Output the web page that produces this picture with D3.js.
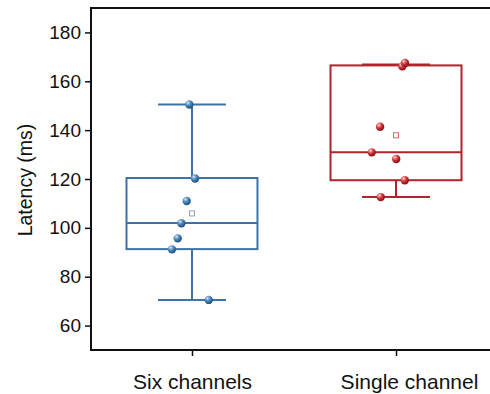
<!DOCTYPE html>
<html>
<head>
<meta charset="utf-8">
<script src="https://cdn.jsdelivr.net/npm/d3@7"></script>
<style>
  body { margin: 0; background: #fff; }
  svg { display: block; }
  text { font-family: "Liberation Sans", Arial, sans-serif; fill: #111; }
</style>
</head>
<body>
<svg id="chart" width="490" height="394"></svg>
<script>
// categories and summary stats
const categories = ["Six channels", "Single channel"];
const whiskerLow = [70.5, 112.6];
const q1 = [91.3, 119.5];
const median = [102.0, 130.9];
const q3 = [120.4, 166.5];
const whiskerHigh = [150.5, 166.9];
const means = [105.9, 137.9];

// raw points (value) and their horizontal jitter (fraction of band step)
const sixValues = [150.5, 120.2, 111.0, 101.9, 95.7, 91.2, 70.5];
const sixJitter = [-0.013, 0.015, -0.026, -0.052, -0.070, -0.098, 0.082];
const singleValues = [166.1, 167.5, 141.4, 130.9, 128.2, 119.5, 112.6];
const singleJitter = [0.031, 0.044, -0.078, -0.119, 0.001, 0.043, -0.075];

const yTicks = [60, 80, 100, 120, 140, 160, 180];
const colors = ["#3b73a8", "#b3232b"];

const mLeft = 91, mRight = 497, mTop = 8, mBottom = 350;

const svg = d3.select("#chart");

const x = d3.scalePoint()
    .domain(categories)
    .range([mLeft, mRight])
    .padding(0.495);

const y = d3.scaleLinear()
    .domain([50, 190])
    .range([mBottom, mTop]);

const step = x.step();

// sphere gradients
const defs = svg.append("defs");
const shades = [["#8fb8e0", "#3d78b0", "#1d4a78"], ["#f08a8a", "#c0282e", "#7e1015"]];
shades.forEach((s, i) => {
    const g = defs.append("radialGradient")
        .attr("id", "ball" + i)
        .attr("cx", "35%").attr("cy", "30%").attr("r", "75%");
    g.append("stop").attr("offset", "0%").attr("stop-color", "#ffffff");
    g.append("stop").attr("offset", "18%").attr("stop-color", s[0]);
    g.append("stop").attr("offset", "55%").attr("stop-color", s[1]);
    g.append("stop").attr("offset", "100%").attr("stop-color", s[2]);
});

// frame (right side runs off the picture)
svg.append("rect")
    .attr("x", mLeft).attr("y", mTop)
    .attr("width", mRight - mLeft).attr("height", mBottom - mTop)
    .attr("fill", "none")
    .attr("stroke", "#111")
    .attr("stroke-width", 2);

// y axis
const yAxis = svg.append("g")
    .attr("transform", `translate(${mLeft},0)`)
    .call(d3.axisLeft(y).tickValues(yTicks).tickSize(6).tickPadding(4));
yAxis.select(".domain").remove();
yAxis.selectAll("line").attr("stroke", "#111").attr("stroke-width", 1.5);
yAxis.selectAll("text")
    .style("font-size", "19px")
    .style("font-family", "Liberation Sans, Arial, sans-serif")
    .attr("fill", "#111");

// x axis
const xAxis = svg.append("g")
    .attr("transform", `translate(0,${mBottom})`)
    .call(d3.axisBottom(x).tickSize(6).tickPadding(18));
xAxis.select(".domain").remove();
xAxis.selectAll("line").attr("stroke", "#111").attr("stroke-width", 1.5);
xAxis.selectAll("text")
    .style("font-size", "21px")
    .style("font-family", "Liberation Sans, Arial, sans-serif")
    .attr("fill", "#111")
    .attr("dx", (d, i) => i === 1 ? 13 : 0);

// y label
svg.append("text")
    .attr("transform", "translate(31.5,180) rotate(-90)")
    .attr("text-anchor", "middle")
    .style("font-size", "19.5px")
    .text("Latency (ms)");

// boxes
const boxW = step * 0.642, capW = step * 0.333;
categories.forEach((c, i) => {
    const cx = x(c);
    const g = svg.append("g")
        .attr("stroke", colors[i])
        .attr("stroke-width", 2)
        .attr("fill", "none");
    g.append("line").attr("x1", cx).attr("x2", cx).attr("y1", y(whiskerHigh[i])).attr("y2", y(q3[i]));
    g.append("line").attr("x1", cx).attr("x2", cx).attr("y1", y(q1[i])).attr("y2", y(whiskerLow[i]));
    g.append("line").attr("x1", cx - capW / 2).attr("x2", cx + capW / 2).attr("y1", y(whiskerHigh[i])).attr("y2", y(whiskerHigh[i]));
    g.append("line").attr("x1", cx - capW / 2).attr("x2", cx + capW / 2).attr("y1", y(whiskerLow[i])).attr("y2", y(whiskerLow[i]));
    g.append("rect")
        .attr("x", cx - boxW / 2).attr("y", y(q3[i]))
        .attr("width", boxW).attr("height", y(q1[i]) - y(q3[i]));
    g.append("line").attr("x1", cx - boxW / 2).attr("x2", cx + boxW / 2).attr("y1", y(median[i])).attr("y2", y(median[i]));

    // mean marker
    svg.append("rect")
        .attr("x", cx - 2.5).attr("y", y(means[i]) - 2.5)
        .attr("width", 5).attr("height", 5)
        .attr("fill", "#fff")
        .attr("stroke", i === 0 ? "#8aa6c4" : "#d46a6a")
        .attr("stroke-width", 1);
});

// points
const groups = [
    { values: sixValues, jitter: sixJitter },
    { values: singleValues, jitter: singleJitter }
];
groups.forEach((grp, i) => {
    svg.append("g").selectAll("circle")
        .data(grp.values)
        .join("circle")
        .attr("cx", (d, j) => x(categories[i]) + grp.jitter[j] * step)
        .attr("cy", d => y(d))
        .attr("r", 4.2)
        .attr("fill", `url(#ball${i})`);
});
</script>
</body>
</html>
